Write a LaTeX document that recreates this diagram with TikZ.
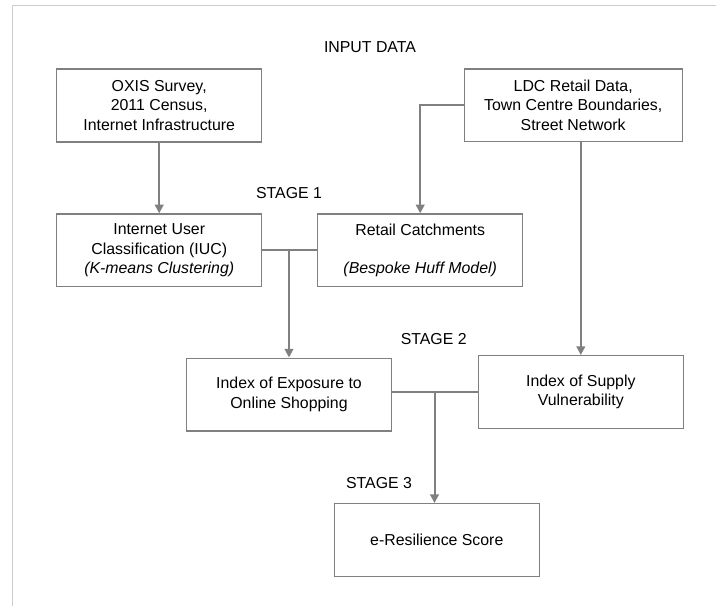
\documentclass[tikz,border=0pt]{standalone}
\usepackage{fontspec}
\setmainfont{Liberation Sans}
\usetikzlibrary{arrows.meta}
\definecolor{linegray}{RGB}{128,128,128}
\definecolor{framegray}{RGB}{205,205,205}
\tikzset{
  stagebox/.style={draw=linegray, line width=1pt, fill=white, align=center,
    minimum width=153.75pt, minimum height=54.5pt, inner sep=2pt,
    font=\fontsize{11.9pt}{14.5pt}\selectfont},
  stagelabel/.style={font=\fontsize{11.9pt}{14.5pt}\selectfont, inner sep=0pt},
  flow/.style={draw=linegray, line width=1.5pt},
  feed/.style={flow, -{Triangle[length=6.5pt,width=6.5pt]}}
}
\begin{document}
\begin{tikzpicture}[x=0.75pt,y=-0.75pt]
  \useasboundingbox (0,0) rectangle (716,606);
  \draw[framegray, line width=1.2pt] (716,5.7) -- (12.5,5.7) -- (12.5,606);
  % headings
  \node[stagelabel] (input)  at (370,47.3)  {INPUT DATA};
  \node[stagelabel] (stage1) at (289,193)   {STAGE 1};
  \node[stagelabel] (stage2) at (433.7,339) {STAGE 2};
  \node[stagelabel] (stage3) at (379,483.3) {STAGE 3};
  % boxes
  \node[stagebox] (oxis) at (159.2,105.5)
    {OXIS Survey,\\2011 Census,\\Internet Infrastructure};
  \node[stagebox, minimum width=163.5pt] (ldc) at (573.2,105.2)
    {LDC Retail Data,\\Town Centre Boundaries,\\Street Network};
  \node[stagebox] (iuc) at (159.2,250.3)
    {Internet User\\Classification (IUC)\\\textit{(K-means Clustering)}};
  \node[stagebox] (retail) at (420.2,250.3)
    {Retail Catchments\\~\\\textit{(Bespoke Huff Model)}};
  \node[stagebox] (expo) at (289,394.5)
    {Index of Exposure to\\Online Shopping};
  \node[stagebox] (supply) at (580.8,392)
    {Index of Supply\\Vulnerability};
  \node[stagebox] (eres) at (436.8,540) {e-Resilience Score};
  % junctions
  \coordinate (j1) at (expo.north |- iuc.east);
  \coordinate (j2) at (434.5,0 |- supply.west);
  \coordinate (ldcfoot) at (supply.north |- ldc.south);
  % connectors
  \draw[feed] (oxis) -- (iuc);
  \draw[feed] (ldc.west) -| (retail.north);
  \draw[feed] (ldcfoot) -- (supply.north);
  \draw[flow] (iuc.east) -- (retail.west);
  \draw[feed] (j1) -- (expo.north);
  \draw[flow] (expo.east |- supply.west) -- (supply.west);
  \draw[feed] (j2) -- (j2 |- eres.north);
\end{tikzpicture}
\end{document}
